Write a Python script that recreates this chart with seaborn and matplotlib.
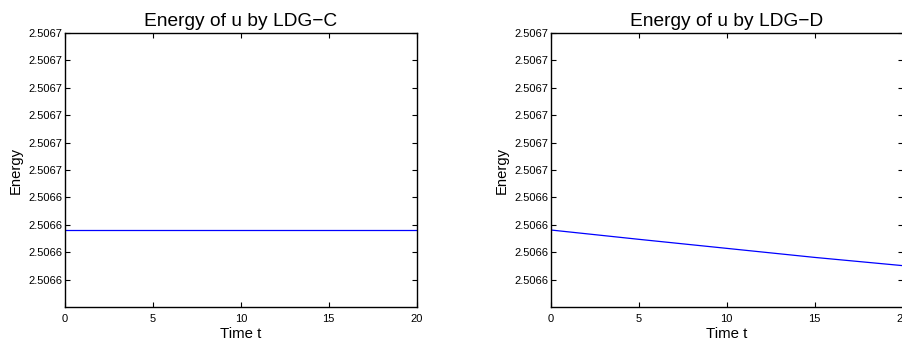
import matplotlib
matplotlib.use("Agg")
import matplotlib.pyplot as plt
import seaborn as sns
import pandas as pd

# ---- data ----
time_c = [0, 5, 10, 15, 20]
energy_c = [2.5066281, 2.5066281, 2.5066281, 2.5066281, 2.5066281]
time_d = [0, 5, 10, 15, 20]
energy_d = [2.5066281, 2.5066247, 2.5066214, 2.5066181, 2.5066151]

titles = ["Energy of u by LDG\u2212C", "Energy of u by LDG\u2212D"]
xticks = [0, 5, 10, 15, 20]
yticks = [2.50670, 2.50669, 2.50668, 2.50667, 2.50666, 2.50665,
          2.50664, 2.50663, 2.50662, 2.50661]
ytick_labels = ["2.5067", "2.5067", "2.5067", "2.5067", "2.5067", "2.5067",
                "2.5066", "2.5066", "2.5066", "2.5066"]
ylim = (2.50660, 2.50670)
xlim = (0, 20)

sns.set_style("ticks")
plt.rcParams['font.family'] = ['Liberation Sans', 'DejaVu Sans']
plt.rcParams['text.color'] = 'black'
plt.rcParams['axes.labelcolor'] = 'black'
plt.rcParams['xtick.color'] = 'black'
plt.rcParams['ytick.color'] = 'black'

fig = plt.figure(figsize=(9.02, 3.43), dpi=100)
W, H = 902.0, 343.0
ax_w = 351.7 / W
ax_h = 274.0 / H
bottom = (H - 307.0) / H
lefts = [65.0 / W, 550.9 / W]

datasets = [(time_c, energy_c), (time_d, energy_d)]
for i in range(2):
    ax = fig.add_axes([lefts[i], bottom, ax_w, ax_h])
    t, e = datasets[i]
    df = pd.DataFrame({"t": t, "E": e})
    sns.lineplot(data=df, x="t", y="E", ax=ax, color=(0, 0, 1), linewidth=0.9)
    ax.set_xlim(*xlim)
    ax.set_ylim(*ylim)
    ax.set_xticks(xticks)
    ax.set_xticklabels([str(v) for v in xticks])
    ax.set_yticks(yticks)
    ax.set_yticklabels(ytick_labels)
    ax.tick_params(direction="in", length=3.5, width=0.8, labelsize=8,
                   top=True, right=True, colors="black")
    ax.tick_params(axis="y", pad=2)
    ax.tick_params(axis="x", pad=5)
    for s in ax.spines.values():
        s.set_visible(True)
        s.set_linewidth(1.0)
        s.set_color("black")
    ax.set_title(titles[i], fontsize=13.8, pad=5, color="black")
    ax.set_xlabel("Time t", fontsize=10.8, labelpad=2, color="black")
    ax.set_ylabel("Energy", fontsize=10.6, labelpad=4, color="black")

fig.savefig("out.png", dpi=100)
